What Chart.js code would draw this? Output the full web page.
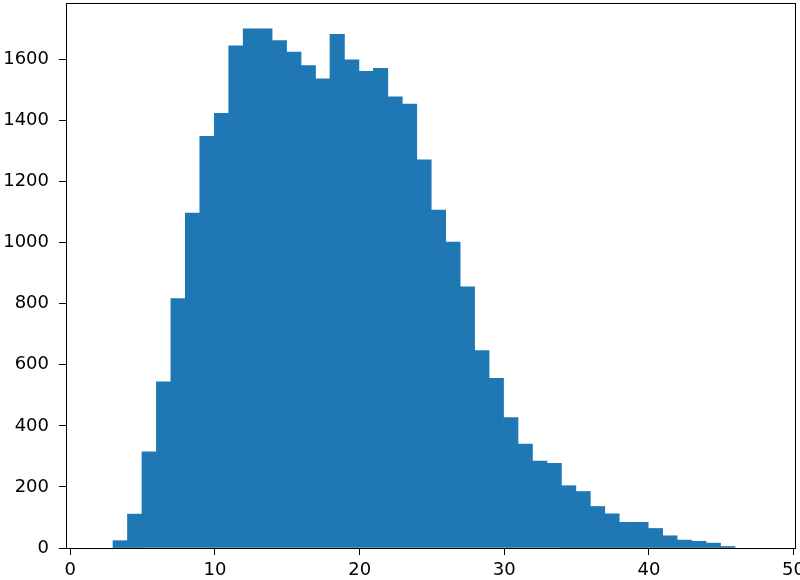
<!DOCTYPE html>
<html>
<head>
<meta charset="utf-8">
<script src="https://cdn.jsdelivr.net/npm/chart.js@4/dist/chart.umd.min.js"></script>
<style>
  html, body { margin: 0; padding: 0; background: #fff; }
  #wrap { width: 800px; height: 580px; }
</style>
</head>
<body>
<div id="wrap"><canvas id="histChart"></canvas></div>
<script>
// histogram: left edge of first bin, bin width, counts per bin
const binStart = 2.95;
const binWidth = 1.0;
const counts = [
  24, 111, 315, 544, 817, 1097, 1348, 1424, 1645, 1700,
  1700, 1662, 1624, 1580, 1537, 1682, 1599, 1561, 1571, 1478,
  1454, 1271, 1107, 1002, 855, 647, 556, 427, 340, 285,
  277, 204, 185, 136, 112, 84, 84, 64, 40, 26,
  22, 16, 5,
];
const xTicks = [0, 10, 20, 30, 40, 50];
const yTicks = [0, 200, 400, 600, 800, 1000, 1200, 1400, 1600];

Chart.defaults.font.family = "'DejaVu Sans', sans-serif";
Chart.defaults.font.size = 18;
Chart.defaults.color = "#000";

// box around the plot area (matplotlib spines)
const frame = {
  id: "frame",
  afterDraw(chart) {
    const { ctx, chartArea: a } = chart;
    ctx.save();
    ctx.strokeStyle = "#000";
    ctx.lineWidth = 1;
    ctx.strokeRect(Math.round(a.left) + 0.5, Math.round(a.top) + 0.5,
      Math.round(a.right - a.left), Math.round(a.bottom - a.top));
    ctx.restore();
  },
};

window.addEventListener("DOMContentLoaded", () => {
  const ctx = document.getElementById("histChart").getContext("2d");
  new Chart(ctx, {
    type: "bar",
    data: {
      datasets: [
        {
          data: counts.map((c, i) => ({ x: binStart + binWidth * (i + 0.5), y: c })),
          backgroundColor: "#1f77b4",
          borderWidth: 0,
          barPercentage: 1.0,
          categoryPercentage: 1.0,
        },
      ],
    },
    options: {
      responsive: true,
      maintainAspectRatio: false,
      animation: false,
      layout: { padding: { top: 3, right: 5, left: 0, bottom: 0 } },
      plugins: { legend: { display: false }, tooltip: { enabled: false } },
      scales: {
        x: {
          type: "linear",
          min: -0.3,
          max: 50.1,
          offset: false,
          afterBuildTicks: (s) => { s.ticks = xTicks.map((v) => ({ value: v })); },
          afterFit: (s) => { s.height = 32; s.paddingLeft = 0; s.paddingRight = 0; },
          grid: { display: true, offset: false, drawOnChartArea: false, drawTicks: true, tickLength: 7, color: "#000" },
          border: { display: true, color: "#000" },
          ticks: { padding: 5, maxRotation: 0, callback: (v) => String(v) },
        },
        y: {
          min: 0,
          max: 1785,
          afterBuildTicks: (s) => { s.ticks = yTicks.map((v) => ({ value: v })); },
          afterFit: (s) => { s.width = 66; s.paddingTop = 0; s.paddingBottom = 0; },
          grid: { display: true, drawOnChartArea: false, drawTicks: true, tickLength: 7, color: "#000" },
          border: { display: true, color: "#000" },
          ticks: { padding: 10, callback: (v) => String(v) },
        },
      },
    },
    plugins: [frame],
  });
});
</script>
</body>
</html>
